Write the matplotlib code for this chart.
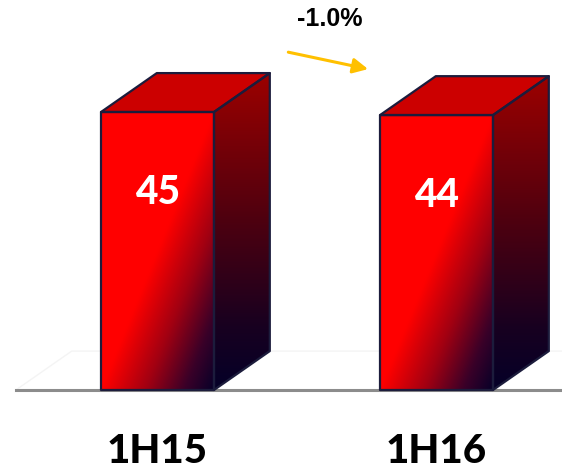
import numpy as np
import matplotlib
matplotlib.use('Agg')
import matplotlib.pyplot as plt
from matplotlib.patches import Polygon
from matplotlib.colors import LinearSegmentedColormap

# data
periods = ['1H15', '1H16']
values = [45.0, 44.5]
value_labels = ['45', '44']
change_label = '-1.0%'

# style
bar_w = 0.405
depth_x = 0.20
depth_y = 6.3
edge_col = '#1c1c3c'

front_cmap = LinearSegmentedColormap.from_list(
    'front', [(0.0, '#ff0000'), (0.5, '#ff0000'), (0.7, '#a00012'),
              (0.87, '#3a0028'), (1.0, '#080028')])
side_cmap = LinearSegmentedColormap.from_list(
    'side', [(0.0, '#9c0000'), (0.45, '#50000f'), (0.8, '#180020'), (1.0, '#050028')])

fig = plt.figure(figsize=(5.62, 4.70), dpi=100)
ax = fig.add_axes([0, 0, 1, 1])
xlim = (-0.5645, 1.4498)
ylim = (-12.95, 63.13)

n = 200
uu, vv = np.meshgrid(np.linspace(0, 1, n), np.linspace(0, 1, n))
front_img = front_cmap(0.5 * (uu + vv))
side_img = side_cmap(vv)

# floor
fx0 = xlim[0] + 0.057
ax.plot([fx0, fx0 + depth_x, xlim[1]], [0, depth_y, depth_y], color='#f4f4f4', lw=1, zorder=0)
ax.plot([fx0, xlim[1]], [0, 0], color='#8c8c8c', lw=2.2, zorder=1)

for i, (h, lab) in enumerate(zip(values, value_labels)):
    x0 = i - bar_w / 2
    x1 = i + bar_w / 2

    # front face
    front = Polygon([(x0, 0), (x1, 0), (x1, h), (x0, h)], closed=True,
                    facecolor='none', edgecolor='none')
    ax.add_patch(front)
    im = ax.imshow(front_img, extent=[x0, x1, 0, h], origin='upper', aspect='auto', zorder=2)
    im.set_clip_path(front)

    # side face
    side = Polygon([(x1, 0), (x1 + depth_x, depth_y), (x1 + depth_x, h + depth_y), (x1, h)],
                   closed=True, facecolor='none', edgecolor='none')
    ax.add_patch(side)
    im2 = ax.imshow(side_img, extent=[x1, x1 + depth_x, 0, h + depth_y], origin='upper',
                    aspect='auto', zorder=2)
    im2.set_clip_path(side)

    # top face
    top = Polygon([(x0, h), (x0 + depth_x, h + depth_y), (x1 + depth_x, h + depth_y), (x1, h)],
                  closed=True, facecolor='#cc0000', edgecolor='none', zorder=2)
    ax.add_patch(top)

    # outlines
    for pts in ([(x0, 0), (x1, 0), (x1, h), (x0, h)],
                [(x1, 0), (x1 + depth_x, depth_y), (x1 + depth_x, h + depth_y), (x1, h)],
                [(x0, h), (x0 + depth_x, h + depth_y), (x1 + depth_x, h + depth_y), (x1, h)]):
        ax.add_patch(Polygon(pts, closed=True, facecolor='none', edgecolor=edge_col,
                             lw=1.6, joinstyle='round', zorder=3))

    ax.text(i, h - 13, lab, color='white', fontsize=28, fontweight='black',
            family=['Lato', 'DejaVu Sans'], ha='center', va='center', zorder=4)
    ax.text(i, -9.9, periods[i], color='black', fontsize=29, fontweight='black',
            family=['Lato', 'DejaVu Sans'], ha='center', va='center', zorder=4)

# change annotation
ax.text(0.586, 0.96, change_label, transform=ax.transAxes, fontsize=18, fontweight='bold',
        family=['Liberation Sans', 'DejaVu Sans'], ha='center', va='center')
ax.annotate('', xy=(0.655, 0.853), xytext=(0.513, 0.889), xycoords='axes fraction',
            arrowprops=dict(arrowstyle='-|>,head_length=0.9,head_width=0.45',
                            color='#ffc000', lw=2.2, shrinkA=0, shrinkB=0))

ax.set_xlim(*xlim)
ax.set_ylim(*ylim)
ax.axis('off')

fig.savefig('out.png', dpi=100)
